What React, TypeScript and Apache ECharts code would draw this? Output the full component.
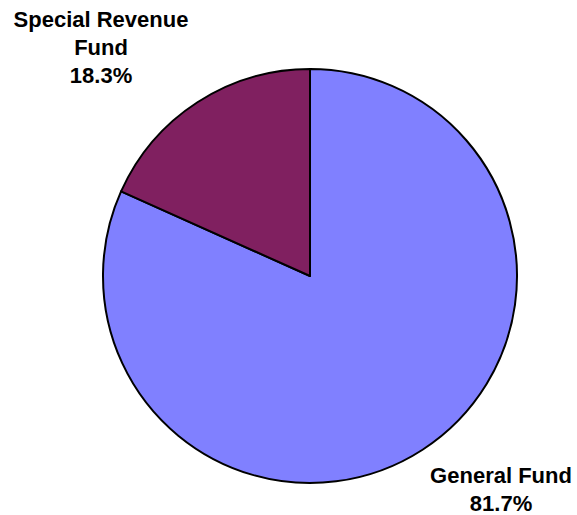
import React, { useEffect, useRef } from "react";
import * as echarts from "echarts";

const categories = ["General Fund", "Special Revenue Fund"];
const labelTexts = ["General Fund", "Special Revenue\nFund"];
const values = [81.7, 18.3];
const colors = ["#8080FF", "#802060"];

export default function App() {
  const ref = useRef<HTMLDivElement>(null);
  useEffect(() => {
    document.body.style.margin = "0";
    const chart = echarts.init(ref.current!, undefined, { renderer: "svg" });
    chart.setOption({
      animation: false,
      backgroundColor: "#ffffff",
      series: [
        {
          type: "pie",
          center: [310, 276],
          radius: 207,
          startAngle: 90,
          clockwise: true,
          percentPrecision: 1,
          data: categories.map((c, i) => ({
            name: c,
            value: values[i],
            itemStyle: { color: colors[i] },
          })),
          itemStyle: { borderColor: "#000000", borderWidth: 2 },
          emphasis: { disabled: true },
          labelLine: { show: false },
          label: {
            show: true,
            position: "outside",
            overflow: "none",
            formatter: (p: any) => `${labelTexts[p.dataIndex]}\n${p.percent.toFixed(1)}%`,
            fontFamily: "Liberation Sans, Arial, sans-serif",
            fontWeight: "bold",
            fontSize: 22,
            lineHeight: 28,
            color: "#000000",
            align: "center",
          },
          labelLayout: (params: any) => {
            if (params.dataIndex === 0) {
              return { x: 501, y: 489, align: "center", verticalAlign: "middle" };
            }
            return { x: 101, y: 47, align: "center", verticalAlign: "middle" };
          },
        },
      ],
    });
    return () => chart.dispose();
  }, []);
  return <div ref={ref} style={{ width: 577, height: 515 }} />;
}
